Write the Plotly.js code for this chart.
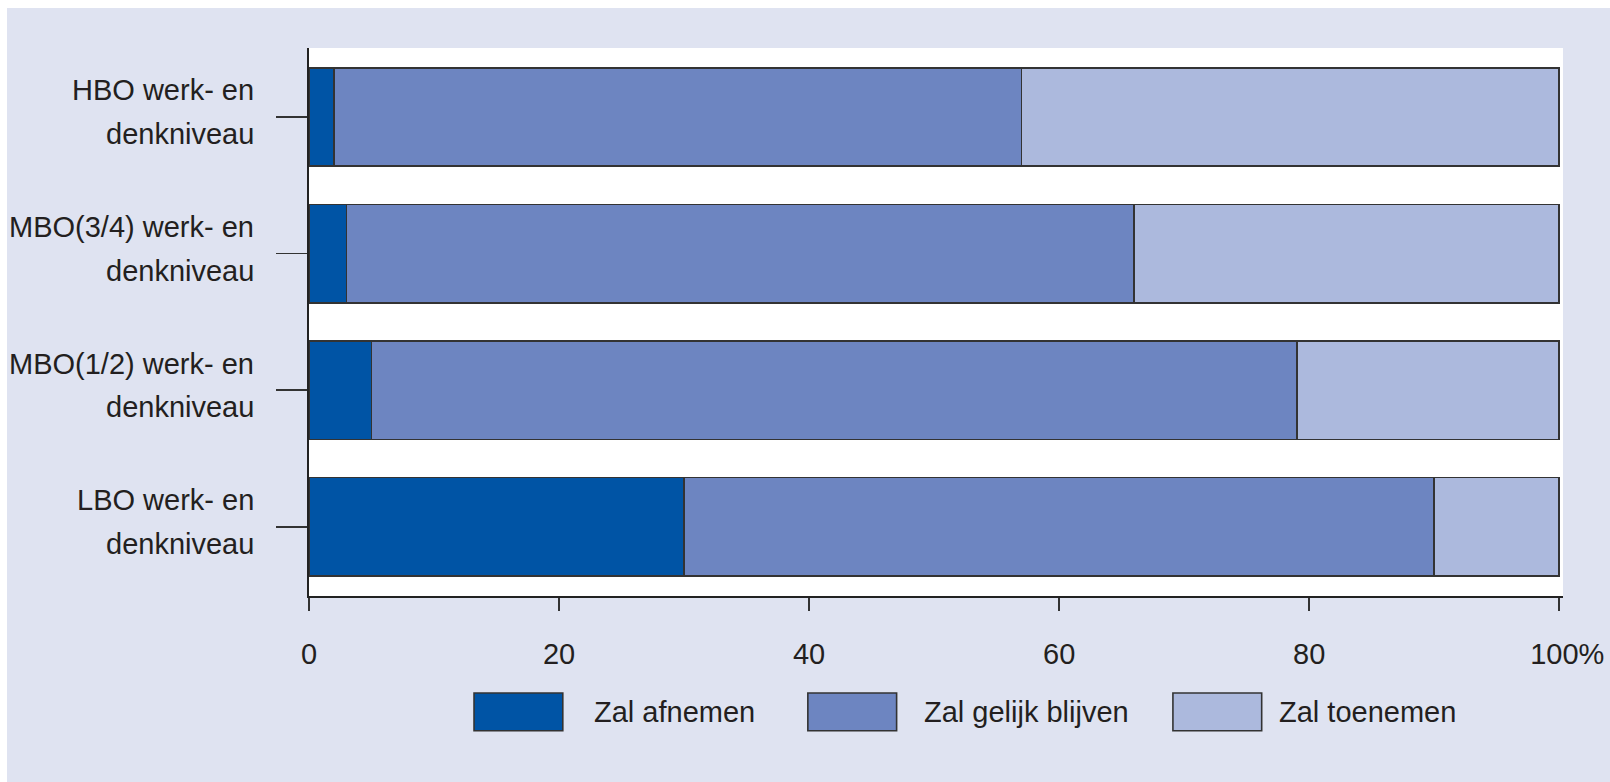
<!DOCTYPE html>
<html>
<head>
<meta charset="utf-8">
<script src="https://cdn.plot.ly/plotly-3.0.1.min.js"></script>
<style>
  html, body { margin: 0; padding: 0; background: #ffffff; width: 1610px; height: 782px; overflow: hidden; }
  #chart { position: absolute; left: 7px; top: 8px; width: 1603px; height: 774px; }
</style>
</head>
<body>
<div id="chart"></div>
<script>
// ---- data ----
const categories = [
  'HBO werk- en<br>denkniveau',
  'MBO(3/4) werk- en<br>denkniveau',
  'MBO(1/2) werk- en<br>denkniveau',
  'LBO werk- en<br>denkniveau'
];
const seriesNames = ['Zal afnemen', 'Zal gelijk blijven', 'Zal toenemen'];
const afnemen  = [2, 3, 5, 30];
const gelijk   = [55, 63, 74, 60];
const toenemen = [43, 34, 21, 10];
const xTickVals = [0, 20, 40, 60, 80, 100];
const xTickText = ['0', '20', '40', '60', '80', '\u00a0\u00a0100%'];

// ---- styles ----
const FONT = '"Liberation Sans", Arial, sans-serif';
const FS = 29;
const TXT = '#231f20';
const colors = ['#0054a5', '#6d85c1', '#acb9dd'];
const lineCol = '#333333';

const seriesValues = [afnemen, gelijk, toenemen];
const traces = seriesValues.map((vals, i) => ({
  type: 'bar',
  orientation: 'h',
  name: seriesNames[i],
  y: categories,
  x: vals,
  width: 0.72,
  marker: { color: colors[i], line: { color: lineCol, width: 1.6 } },
  hoverinfo: 'x+name'
}));

const shapes = [];
const annotations = [];

// category labels: two lines per tick, with the reference's wider line spacing
const lineShifts = [26.5, -17];
categories.forEach(cat => {
  cat.split('<br>').forEach((line, j) => {
    annotations.push({
      xref: 'paper', yref: 'y', x: -0.042, y: cat,
      xanchor: 'right', yanchor: 'middle', yshift: lineShifts[j],
      showarrow: false, text: line,
      font: { family: FONT, size: FS, color: TXT }
    });
  });
});

// legend (drawn manually: big boxes)
const legendBoxX = [[13.2, 20.3], [39.9, 47.0], [69.1, 76.2]];
const legendTextX = [22.6, 49.0, 77.4];
seriesNames.forEach((n, i) => {
  shapes.push({
    type: 'rect', xref: 'x', yref: 'paper',
    x0: legendBoxX[i][0], x1: legendBoxX[i][1], y0: -0.246, y1: -0.177,
    fillcolor: colors[i], line: { color: lineCol, width: 1.6 }
  });
  annotations.push({
    xref: 'x', yref: 'paper', x: legendTextX[i], y: -0.211,
    xanchor: 'left', yanchor: 'middle', showarrow: false,
    text: n, font: { family: FONT, size: FS, color: TXT }
  });
});

const layout = {
  width: 1603, height: 774,
  margin: { l: 302, r: 47, t: 40, b: 186 },
  paper_bgcolor: '#dfe3f1',
  plot_bgcolor: '#ffffff',
  barmode: 'stack',
  showlegend: false,
  font: { family: FONT, size: FS, color: TXT },
  xaxis: {
    range: [0, 100.3],
    tickmode: 'array', tickvals: xTickVals, ticktext: xTickText,
    ticks: 'outside', ticklen: 13, tickwidth: 1.6, tickcolor: lineCol,
    showline: true, linecolor: '#222222', linewidth: 1.8,
    showgrid: false, zeroline: false,
    ticklabelstandoff: 18,
    tickfont: { family: FONT, size: FS, color: TXT },
    fixedrange: true
  },
  yaxis: {
    type: 'category',
    range: [3.507, -0.505],
    ticks: 'outside', ticklen: 31, tickwidth: 1.6, tickcolor: lineCol,
    showline: true, linecolor: '#222222', linewidth: 1.8,
    showgrid: false, zeroline: false,
    showticklabels: false,
    fixedrange: true
  },
  shapes: shapes,
  annotations: annotations
};

Plotly.newPlot('chart', traces, layout, { displayModeBar: false, staticPlot: true });
</script>
</body>
</html>
